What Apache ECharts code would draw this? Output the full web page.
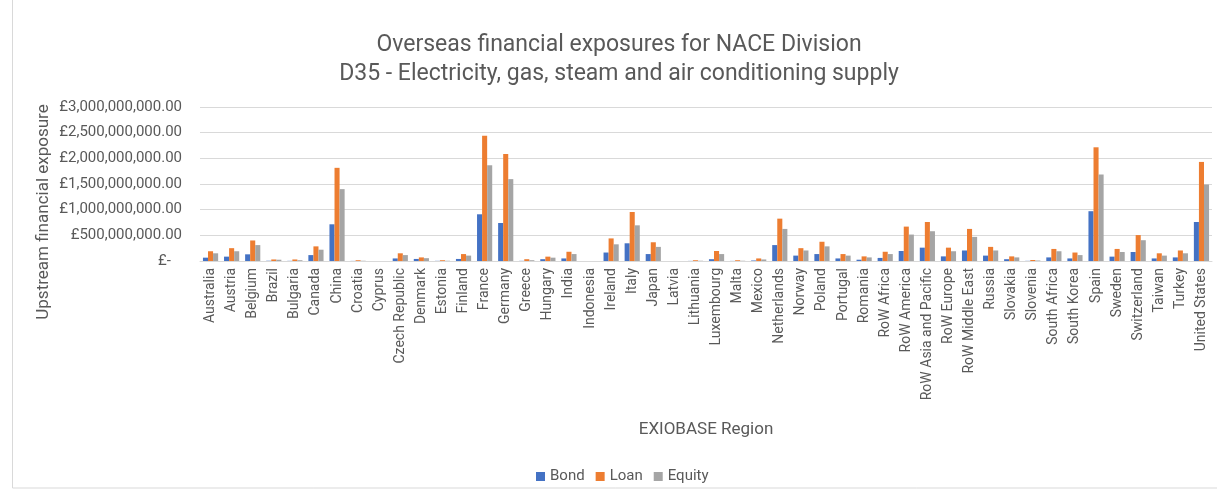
<!DOCTYPE html>
<html>
<head>
<meta charset="utf-8">
<script src="https://cdn.jsdelivr.net/npm/echarts@6/dist/echarts.min.js"></script>
<style>
html,body{margin:0;padding:0;background:#fff;}
#chart{width:1217px;height:491px;}
</style>
</head>
<body>
<div id="chart"></div>
<script>
const categories = ["Australia","Austria","Belgium","Brazil","Bulgaria","Canada","China","Croatia","Cyprus","Czech Republic","Denmark","Estonia","Finland","France","Germany","Greece","Hungary","India","Indonesia","Ireland","Italy","Japan","Latvia","Lithuania","Luxembourg","Malta","Mexico","Netherlands","Norway","Poland","Portugal","Romania","RoW Africa","RoW America","RoW Asia and Pacific","RoW Europe","RoW Middle East","Russia","Slovakia","Slovenia","South Africa","South Korea","Spain","Sweden","Switzerland","Taiwan","Turkey","United States"];

// values in millions of pounds
const bondM   = [65,85,130,5,3,115,715,2,0,50,40,3,40,910,740,3,35,50,0,165,345,135,0,2,35,2,10,310,105,135,50,25,60,195,260,90,205,105,35,3,70,50,970,85,175,50,70,760];
const loanM   = [190,250,400,30,30,285,1815,15,0,150,70,15,135,2440,2085,35,85,180,0,440,955,365,0,15,195,15,50,825,250,375,135,90,180,670,760,260,625,275,90,20,235,165,2215,235,505,150,205,1930];
const equityM = [150,190,310,25,15,220,1400,5,0,115,55,5,105,1865,1595,15,65,135,0,325,695,275,0,5,135,5,30,625,205,285,105,70,135,515,580,190,470,205,70,10,190,115,1685,175,405,105,150,1490];

const yTicks = [0,500000000,1000000000,1500000000,2000000000,2500000000,3000000000];
const seriesNames = ["Bond","Loan","Equity"];
const titleLines = ["Overseas financial exposures for NACE Division","D35 - Electricity, gas, steam and air conditioning supply"];

const toPounds = a => a.map(v => v * 1e6);

function fmt(v){
  if (v === 0) return '£-   ';
  return '£' + v.toLocaleString('en-GB',{minimumFractionDigits:2,maximumFractionDigits:2});
}

const chart = echarts.init(document.getElementById('chart'));
const txt = '#595959';
const font = 'Roboto';
chart.setOption({
  animation:false,
  backgroundColor:'#fff',
  color:['#4472C4','#ED7D31','#A5A5A5'],
  legend:{
    top:464, left:531,
    itemWidth:9, itemHeight:9, itemGap:11,
    icon:'rect',
    textStyle:{fontFamily:font,fontSize:15,color:txt},
    data:seriesNames
  },
  grid:{left:200,right:5,top:107,bottom:230,containLabel:false},
  xAxis:{
    type:'category',
    data:categories,
    name:'EXIOBASE Region',
    nameLocation:'middle',
    nameGap:160,
    nameTextStyle:{fontFamily:font,fontSize:17,color:txt},
    axisLine:{lineStyle:{color:'#d9d9d9'}},
    axisTick:{show:false},
    axisLabel:{rotate:90,interval:0,fontFamily:font,fontSize:14,color:txt,margin:7}
  },
  yAxis:{
    type:'value',
    min:yTicks[0], max:yTicks[yTicks.length-1], interval:500000000,
    axisLine:{show:false},
    axisTick:{show:false},
    splitLine:{lineStyle:{color:'#d9d9d9',width:1}},
    axisLabel:{formatter:fmt,fontFamily:font,fontSize:15,color:txt,margin:18}
  },
  graphic:[{
    type:'rect', shape:{x:12.5,y:-5,width:1220,height:493},
    style:{fill:'none',stroke:'#d9d9d9',lineWidth:1}, silent:true
  },{
    type:'text', x:619, y:45,
    style:{text:titleLines[0],fontFamily:font,fontSize:23,fill:txt,align:'center',verticalAlign:'middle'},
    silent:true
  },{
    type:'text', x:619, y:74,
    style:{text:titleLines[1],fontFamily:font,fontSize:23,fill:txt,align:'center',verticalAlign:'middle'},
    silent:true
  },{
    type:'text', x:44, y:212, rotation:Math.PI/2,
    style:{text:'Upstream financial exposure',fontFamily:font,fontSize:17,fill:txt,align:'center',verticalAlign:'middle'},
    silent:true
  }],
  series:[
    {name:seriesNames[0],type:'bar',data:toPounds(bondM),barGap:'0%',barCategoryGap:'28%'},
    {name:seriesNames[1],type:'bar',data:toPounds(loanM),barGap:'0%',barCategoryGap:'28%'},
    {name:seriesNames[2],type:'bar',data:toPounds(equityM),barGap:'0%',barCategoryGap:'28%'}
  ]
});
</script>
</body>
</html>
